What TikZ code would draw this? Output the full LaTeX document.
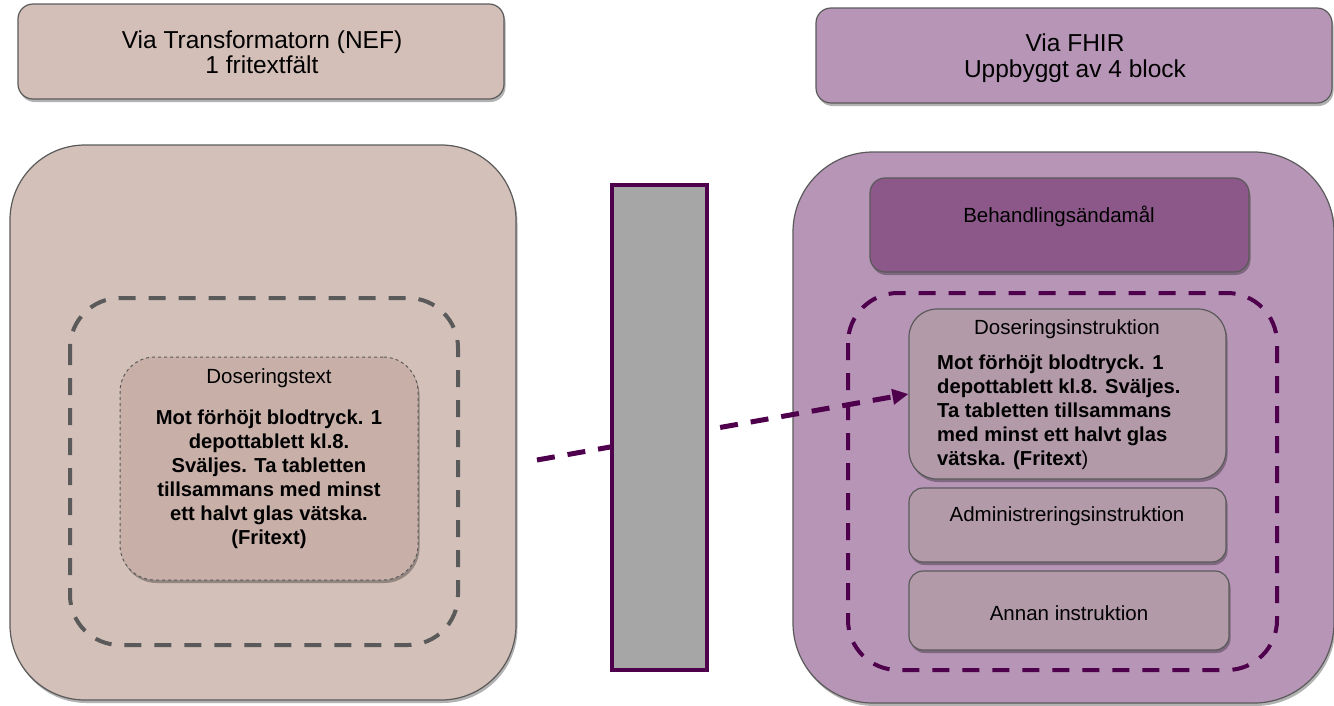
\documentclass[tikz,border=0pt]{standalone}
\usepackage{fontspec}
\setmainfont{Liberation Sans}
\usetikzlibrary{shadows,arrows.meta}

\definecolor{nefhead}{HTML}{D3BFB8}
\definecolor{nefpanel}{HTML}{D3C0B9}
\definecolor{nefinner}{HTML}{C8B0A9}
\definecolor{fhirpanel}{HTML}{B795B6}
\definecolor{fhirdark}{HTML}{8B5889}
\definecolor{fhirblock}{HTML}{B39AA9}
\definecolor{edgegray}{HTML}{5A5A5A}
\definecolor{plum}{HTML}{4F004D}
\definecolor{bargray}{HTML}{A6A6A6}

\tikzset{
  softshadow/.style={drop shadow={shadow xshift=1.5pt,shadow yshift=-3pt,opacity=0.3,fill=black}},
  boxbase/.style={draw=edgegray,line width=1.2pt,softshadow,inner sep=0pt},
  headbox/.style={boxbase,rounded corners=15pt,minimum height=95pt},
  blockbox/.style={boxbase,fill=fhirblock,rounded corners=14pt,minimum width=317pt},
  grouprim/.style={line width=4pt,dash pattern=on 17pt off 13pt,rounded corners=50pt},
  labeltext/.style={font=\fontsize{20.5}{24}\selectfont,inner sep=0pt},
  headtext/.style={font=\fontsize{24.5}{25.5}\selectfont,align=center,inner sep=0pt},
  bodytext/.style={font=\fontsize{20.2}{24}\selectfont\bfseries,inner sep=0pt},
  flow/.style={plum,line width=5pt,dash pattern=on 18pt off 13pt,-{Triangle[length=16pt,width=15pt]}}
}

\begin{document}
\begin{tikzpicture}[x=1pt,y=-1pt]
\useasboundingbox (0,0) rectangle (1334,705);

% ---------- headers ----------
\node[headbox,fill=nefhead,minimum width=486pt] (nefhead) at (261,51.5) {};
\node[headtext] (neftitle) at (262,52) {Via Transformatorn (NEF)\\1 fritextfält};

\node[headbox,fill=fhirpanel,minimum width=516pt] (fhirhead) at (1074,55.5) {};
\node[headtext] (fhirtitle) at (1075,58) {Via FHIR\\Uppbyggt av 4 block};

% ---------- NEF side ----------
\node[boxbase,fill=nefpanel,rounded corners=75pt,minimum width=506pt,minimum height=555pt] (nefpanel) at (263,422.5) {};
\draw[grouprim,edgegray] (70,298) rectangle (458,645);
\node[boxbase,fill=nefinner,draw=edgegray,line width=1pt,dashed,rounded corners=35pt,
      minimum width=298pt,minimum height=223pt] (dosetext) at (269,468.5) {};
\node[labeltext] (dosetexttitle) at (269,378) {Doseringstext};
\node[bodytext,align=center,anchor=north] (dosetextbody) at (269,410)
  {Mot förhöjt blodtryck. 1\\depottablett kl.8.\\Sväljes. Ta tabletten\\tillsammans med minst\\ett halvt glas vätska.\\(Fritext)};

% ---------- FHIR side ----------
\node[boxbase,fill=fhirpanel,rounded corners=80pt,minimum width=541pt,minimum height=551pt] (fhirpanel) at (1063.5,427.5) {};
\node[boxbase,fill=fhirdark,rounded corners=15pt,minimum width=379pt,minimum height=94pt] (purpose) at (1059.5,225) {};
\node[labeltext] (purposetext) at (1059,216) {Behandlingsändamål};

\draw[grouprim,plum] (848,293) rectangle (1277,670);

\node[blockbox,minimum height=170pt,rounded corners=28pt] (doseinstr) at (1067.5,394) {};
\node[labeltext] (doseinstrtitle) at (1067,329) {Doseringsinstruktion};
\node[bodytext,align=left,anchor=north west] (doseinstrbody) at (937,355)
  {Mot förhöjt blodtryck. 1\\depottablett kl.8. Sväljes.\\Ta tabletten tillsammans\\med minst ett halvt glas\\vätska. (Fritext\textmd{)}};

\node[blockbox,minimum height=74pt] (admin) at (1067.5,525) {};
\node[labeltext] (admintext) at (1067,516) {Administreringsinstruktion};

\node[blockbox,minimum height=79pt,minimum width=320pt] (other) at (1069,610.5) {};
\node[labeltext] (othertext) at (1069,613) {Annan instruktion};

% ---------- connector, drawn first so the bar covers its middle ----------
\coordinate (flowstart) at (537,460);
\draw[flow] (flowstart) -- (doseinstr.west |- 0,394);
\node[draw=plum,fill=bargray,line width=4pt,minimum width=95pt,minimum height=485pt,inner sep=0pt] (bar) at (659.5,427.5) {};

\end{tikzpicture}
\end{document}
